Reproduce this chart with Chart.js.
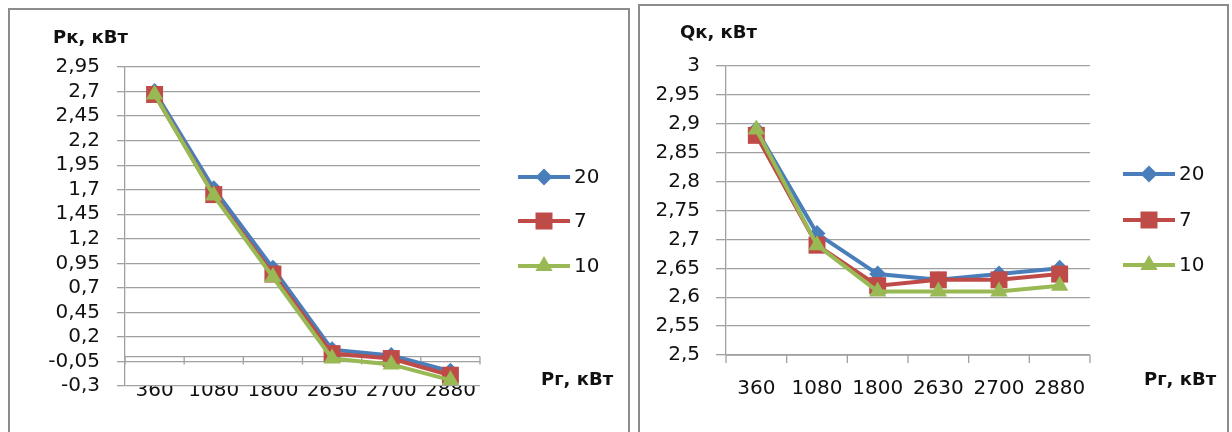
<!DOCTYPE html>
<html>
<head>
<meta charset="utf-8">
<script src="https://cdn.jsdelivr.net/npm/chart.js@4.4.1/dist/chart.umd.min.js"></script>
<style>
  html, body { margin: 0; padding: 0; background: #fff; }
  body { width: 1232px; height: 432px; position: relative; overflow: hidden; }
  canvas { position: absolute; top: 0; }
  #pkChart { left: 0; }
  #qkChart { left: 634px; }
  .frame { position: absolute; border: 2px solid #8c8c8c; box-sizing: border-box; pointer-events: none; }
</style>
</head>
<body>
<canvas id="pkChart" width="634" height="432"></canvas>
<canvas id="qkChart" width="598" height="432"></canvas>
<div class="frame" style="left:8px;top:8px;width:622px;height:460px"></div>
<div class="frame" style="left:638px;top:4px;width:591px;height:460px"></div>

<script>
// данные
const categories = ['360', '1080', '1800', '2630', '2700', '2880'];
const seriesNames = ['20', '7', '10'];

const pk20 = [2.70, 1.71, 0.90, 0.07, 0.01, -0.15];
const pk7  = [2.67, 1.65, 0.84, 0.03, -0.02, -0.19];
const pk10 = [2.67, 1.64, 0.81, -0.02, -0.08, -0.24];

const qk20 = [2.89, 2.71, 2.64, 2.63, 2.64, 2.65];
const qk7  = [2.88, 2.69, 2.62, 2.63, 2.63, 2.64];
const qk10 = [2.89, 2.69, 2.61, 2.61, 2.61, 2.62];

const pkTicks = [-0.3, -0.05, 0.2, 0.45, 0.7, 0.95, 1.2, 1.45, 1.7, 1.95, 2.2, 2.45, 2.7, 2.95];
const qkTicks = [2.5, 2.55, 2.6, 2.65, 2.7, 2.75, 2.8, 2.85, 2.9, 2.95, 3];

// стиль
const colors = ['#4a7ebb', '#be4b48', '#98b954'];
const shapes = ['rectRot', 'rect', 'triangle'];
const radii = [8.5, 12, 10];
const gridColor = '#a0a0a0';
const tickFont = { family: 'DejaVu Sans', size: 20 };

Chart.defaults.font.family = 'DejaVu Sans';
Chart.defaults.color = '#111';

const fmt = v => String(v).replace('.', ',');

function makeSets(list) {
    return list.map((vals, i) => ({
        label: seriesNames[i],
        data: vals,
        borderColor: colors[i],
        backgroundColor: colors[i],
        borderWidth: 4,
        tension: 0,
        pointStyle: shapes[i],
        pointRadius: radii[i],
        pointHoverRadius: radii[i],
        pointBorderWidth: 0,
        order: 2 - i,
        clip: false
    }));
}

// оси, подписи и легенда
const decor = {
    id: 'decor',
    beforeDatasetsDraw(chart, args, o) {
        const { ctx, chartArea, scales: { x, y } } = chart;
        const yPix = y.getPixelForValue(o.crossAt);
        ctx.save();
        ctx.strokeStyle = gridColor;
        ctx.lineWidth = 1.3;
        ctx.beginPath();
        ctx.moveTo(chartArea.left, yPix);
        ctx.lineTo(chartArea.right, yPix);
        for (let i = 0; i <= categories.length; i++) {
            const px = x.getPixelForValue(i - 0.5);
            ctx.moveTo(px, yPix);
            ctx.lineTo(px, yPix + 8);
        }
        ctx.stroke();
        ctx.restore();
    },
    afterDraw(chart, args, o) {
        const ctx = chart.ctx;
        ctx.save();
        ctx.fillStyle = '#111';
        ctx.textBaseline = 'middle';
        ctx.textAlign = 'left';
        ctx.font = 'bold 18px "DejaVu Sans"';
        ctx.fillText(o.yTitle, o.yTitlePos[0], o.yTitlePos[1]);
        ctx.fillText(o.xTitle, o.xTitlePos[0], o.xTitlePos[1]);

        // легенда
        ctx.font = '20px "DejaVu Sans"';
        chart.data.datasets.forEach((ds, i) => {
            const ly = o.legendY[i];
            const x0 = o.legendX, x1 = o.legendX + 52, xm = (x0 + x1) / 2;
            ctx.strokeStyle = ds.borderColor;
            ctx.lineWidth = 4;
            ctx.beginPath();
            ctx.moveTo(x0, ly);
            ctx.lineTo(x1, ly);
            ctx.stroke();
            ctx.fillStyle = ds.backgroundColor;
            ctx.beginPath();
            const r = ds.pointRadius;
            if (ds.pointStyle === 'rectRot') {
                ctx.moveTo(xm - r, ly); ctx.lineTo(xm, ly - r);
                ctx.lineTo(xm + r, ly); ctx.lineTo(xm, ly + r);
            } else if (ds.pointStyle === 'rect') {
                const h = r * Math.SQRT1_2;
                ctx.rect(xm - h, ly - h, 2 * h, 2 * h);
            } else {
                ctx.moveTo(xm, ly - r);
                ctx.lineTo(xm + r * 0.866, ly + r / 2);
                ctx.lineTo(xm - r * 0.866, ly + r / 2);
            }
            ctx.closePath();
            ctx.fill();
            ctx.fillStyle = '#111';
            ctx.fillText(ds.label, x1 + 4, ly + 1);
        });
        ctx.restore();
    }
};

function buildChart(id, sets, ticksList, cfg) {
    return new Chart(document.getElementById(id), {
        type: 'line',
        data: { labels: categories, datasets: makeSets(sets) },
        options: {
            responsive: false,
            animation: false,
            events: [],
            layout: { padding: { left: 0, top: cfg.top, right: cfg.right, bottom: 0 } },
            scales: {
                x: {
                    type: 'category',
                    offset: true,
                    grid: { display: false },
                    border: { display: false },
                    ticks: { font: tickFont, padding: cfg.xPad, maxRotation: 0, autoSkip: false },
                    afterFit: s => { s.height = cfg.xHeight; }
                },
                y: {
                    min: ticksList[0],
                    max: ticksList[ticksList.length - 1],
                    afterBuildTicks: s => { s.ticks = ticksList.map(v => ({ value: v })); },
                    grid: { color: gridColor, lineWidth: 1.3, tickLength: cfg.tl },
                    border: { color: gridColor, width: 1.3 },
                    ticks: { font: tickFont, padding: cfg.yPad, autoSkip: false, callback: v => fmt(v) },
                    afterFit: s => { s.width = cfg.yWidth; }
                }
            },
            plugins: {
                legend: { display: false },
                tooltip: { enabled: false },
                decor: cfg.decor
            }
        },
        plugins: [decor]
    });
}

buildChart('pkChart', [pk20, pk7, pk10], pkTicks, {
    top: 67, right: 154, xHeight: 46, xPad: -15, yWidth: 125, tl: 8, yPad: 17,
    decor: {
        crossAt: 0,
        yTitle: 'Рк, кВт', yTitlePos: [53, 38],
        xTitle: 'Рг, кВт', xTitlePos: [541, 380],
        legendX: 518, legendY: [177, 221, 266]
    }
});

buildChart('qkChart', [qk20, qk7, qk10], qkTicks, {
    top: 66, right: 142, xHeight: 77, xPad: 14, yWidth: 92, tl: 10, yPad: 16,
    decor: {
        crossAt: 2.5,
        yTitle: 'Qк, кВт', yTitlePos: [46, 33],
        xTitle: 'Рг, кВт', xTitlePos: [510, 380],
        legendX: 489, legendY: [174, 220, 265]
    }
});
</script>
</body>
</html>
